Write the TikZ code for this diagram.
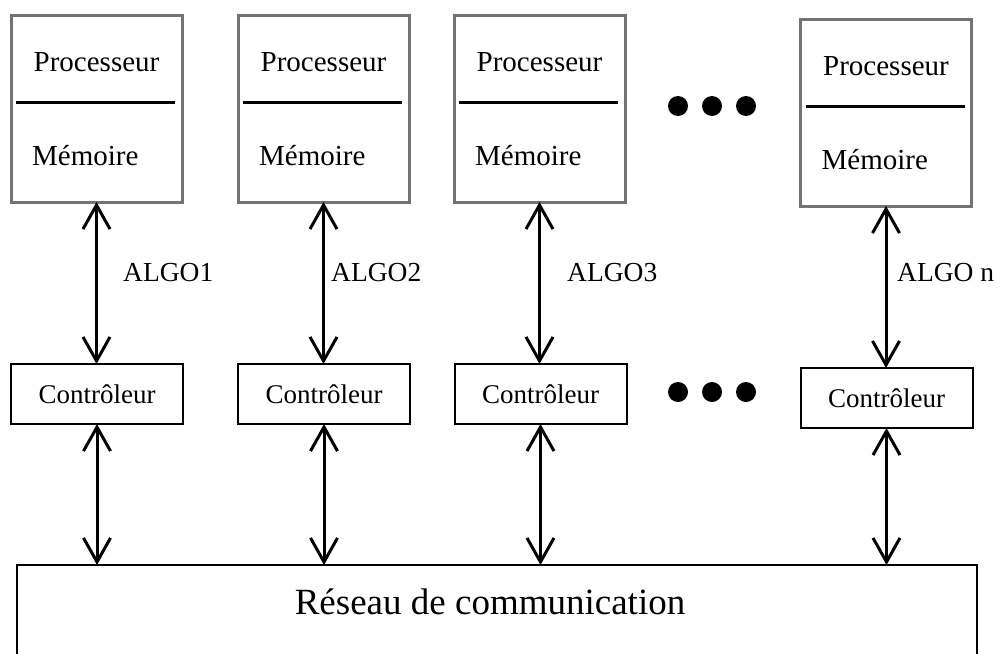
\documentclass[tikz,border=0pt]{standalone}
\usepackage{fontspec}
\setmainfont{Liberation Serif}
\usetikzlibrary{arrows.meta,positioning,calc}

\begin{document}
\begin{tikzpicture}[
    x=1pt, y=-1pt,
    pmbox/.style={draw=black!55, line width=3pt, minimum width=171pt, minimum height=187pt, inner sep=0pt, outer sep=0pt},
    ctbox/.style={draw, line width=2pt, minimum width=172pt, minimum height=60pt, inner sep=0pt, outer sep=0pt, font=\fontsize{27}{32}\selectfont},
    netbox/.style={draw, line width=2pt, minimum width=960pt, minimum height=200pt, anchor=north, inner sep=0pt, outer sep=0pt},
    txt/.style={inner sep=0pt, font=\fontsize{29}{34}\selectfont},
    nettxt/.style={anchor=base, inner sep=0pt, font=\fontsize{37}{44}\selectfont},
    algo/.style={anchor=base west, inner sep=0pt, font=\fontsize{27.5}{32}\selectfont},
    sepline/.style={line width=3.5pt},
    arrow/.style={{Straight Barb[length=24pt,width=27pt]}-{Straight Barb[length=24pt,width=27pt]}, line width=3pt}
]
\clip (0,0) rectangle (1003,653);

% processeur / memoire blocks
\node[pmbox] (pm1) at (96.5,108.5) {};
\node[pmbox] (pm2) at (323.5,108.5) {};
\node[pmbox] (pm3) at (539.5,108.5) {};
\node[pmbox] (pm4) at (886,112.5) {};

\node[txt, anchor=base] (proc1) at ($(pm1.north)+(0,56)$) {Processeur};
\node[txt, anchor=base] (proc2) at ($(pm2.north)+(0,56)$) {Processeur};
\node[txt, anchor=base] (proc3) at ($(pm3.north)+(0,56)$) {Processeur};
\node[txt, anchor=base] (proc4) at ($(pm4.north)+(0,56)$) {Processeur};

\node[txt, anchor=base west] (mem1) at ($(pm1.north west)+(21,150)$) {Mémoire};
\node[txt, anchor=base west] (mem2) at ($(pm2.north west)+(21,150)$) {Mémoire};
\node[txt, anchor=base west] (mem3) at ($(pm3.north west)+(21,150)$) {Mémoire};
\node[txt, anchor=base west] (mem4) at ($(pm4.north west)+(21,150)$) {Mémoire};

\draw[sepline] ($(pm1.north west)+(5,87.5)$) -- ($(pm1.north east)+(-7,87.5)$);
\draw[sepline] ($(pm2.north west)+(5,87.5)$) -- ($(pm2.north east)+(-7,87.5)$);
\draw[sepline] ($(pm3.north west)+(5,87.5)$) -- ($(pm3.north east)+(-7,87.5)$);
\draw[sepline] ($(pm4.north west)+(5,87.5)$) -- ($(pm4.north east)+(-7,87.5)$);

% controleurs
\node[ctbox] (ct1) at (97,394) {Contrôleur};
\node[ctbox] (ct2) at (324,394) {Contrôleur};
\node[ctbox] (ct3) at (540.5,394) {Contrôleur};
\node[ctbox] (ct4) at (886.5,398) {Contrôleur};

% reseau
\node[netbox] (net) at (497,565) {};
\node[nettxt] (nettitle) at (490,614) {Réseau de communication};

% liaisons
\draw[arrow] (pm1.south) -- (pm1.south |- ct1.north);
\draw[arrow] (pm2.south) -- (pm2.south |- ct2.north);
\draw[arrow] (pm3.south) -- (pm3.south |- ct3.north);
\draw[arrow] (pm4.south) -- (pm4.south |- ct4.north);

\draw[arrow] (ct1.south) -- (ct1.south |- net.north);
\draw[arrow] (ct2.south) -- (ct2.south |- net.north);
\draw[arrow] (ct3.south) -- (ct3.south |- net.north);
\draw[arrow] (ct4.south) -- (ct4.south |- net.north);

\node[algo] (algo1) at (123,281) {ALGO1};
\node[algo] (algo2) at (331,281) {ALGO2};
\node[algo] (algo3) at (567,281) {ALGO3};
\node[algo] (algon) at (897,281) {ALGO n};

% points de suspension
\fill (678,106) circle[radius=10pt] (712,106) circle[radius=10pt] (746,106) circle[radius=10pt];
\fill (678,392) circle[radius=10pt] (712,392) circle[radius=10pt] (746,392) circle[radius=10pt];
\end{tikzpicture}
\end{document}
